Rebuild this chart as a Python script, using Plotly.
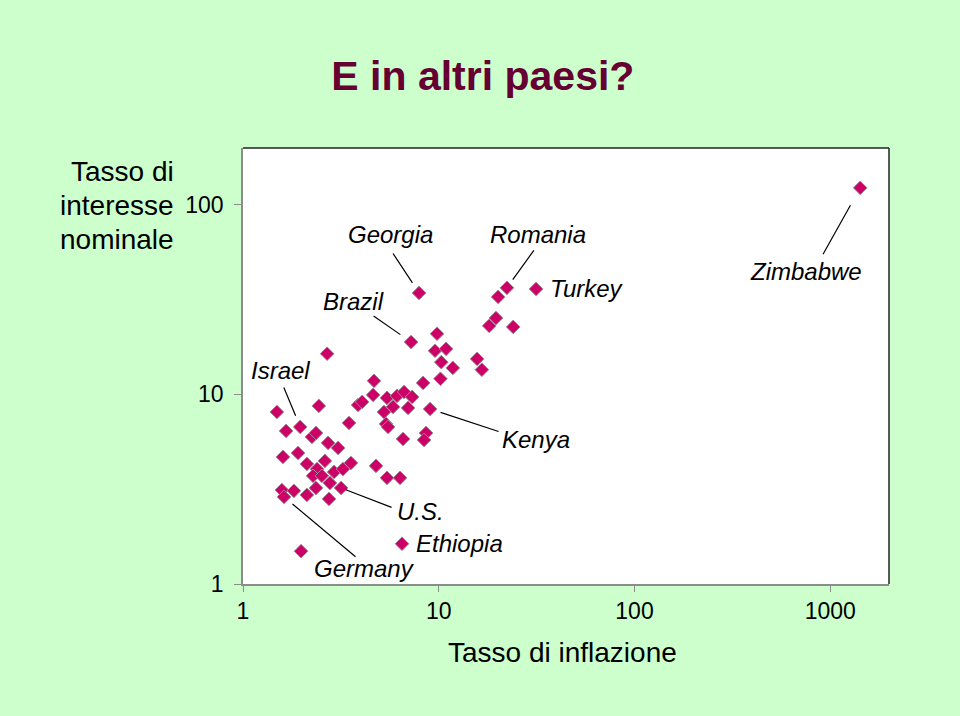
import numpy as np
import plotly.graph_objects as go

# Inflation rate (x) and nominal interest rate (y)
inflation = [1422, 31.4, 22.3, 20.1, 19.6, 18.1, 24.0, 7.93, 7.22, 9.8, 9.57, 10.9, 10.3, 11.8,
             15.7, 16.6, 10.2, 8.32, 4.67, 4.62, 5.44, 6.12, 6.65, 7.31, 3.87, 4.06, 5.84, 6.97,
             9.03, 5.25, 5.38, 5.51, 6.57, 8.61, 8.41, 2.69, 1.49, 2.44, 3.48, 1.66, 1.96, 2.25,
             2.36, 2.72, 3.06, 1.60, 1.91, 2.12, 2.62, 2.39, 2.92, 3.24, 3.56, 2.28, 2.53, 2.78,
             3.17, 4.78, 5.44, 6.34, 1.58, 1.82, 2.12, 2.36, 2.75, 1.62, 1.98, 6.49]
interest = [123, 36.0, 36.5, 32.7, 25.3, 23.0, 22.7, 34.3, 18.9, 20.9, 17.0, 17.4, 14.8, 13.8,
            15.4, 13.5, 12.1, 11.5, 11.8, 9.94, 9.59, 9.82, 10.3, 9.70, 8.80, 9.13, 8.59, 8.49,
            8.38, 8.08, 6.99, 6.74, 5.82, 6.26, 5.75, 16.4, 8.08, 8.70, 7.07, 6.42, 6.74, 5.97,
            6.26, 5.55, 5.22, 4.68, 4.91, 4.30, 4.46, 4.04, 3.90, 4.04, 4.35, 3.72, 3.72, 3.41,
            3.21, 4.20, 3.63, 3.63, 3.13, 3.10, 2.95, 3.21, 2.81, 2.88, 1.49, 1.63]

# Labelled countries: name and index of their point in the arrays above
label_names = ["Zimbabwe", "Turkey", "Romania", "Georgia", "Brazil", "Kenya",
               "Israel", "U.S.", "Germany", "Ethiopia"]
label_index = [0, 1, 2, 7, 8, 28, 40, 56, 65, 67]

x_ticks = [1, 10, 100, 1000]
x_tick_text = ["1", "10", "100", "1000"]
y_ticks = [1, 10, 100]
y_tick_text = ["1", "10", "100"]

title_text = "E in altri paesi?"
x_title = "Tasso di inflazione"
y_title_lines = ["Tasso di", "interesse", "nominale"]

# label placement: (text xshift, text yshift, xanchor, line (ax, ay, standoff)) ; None = no line
label_style = {
    "Zimbabwe": (-54, -84, "center", (-38, 68, 20)),
    "Turkey": (12, 0, "left", None),
    "Romania": (31, 53, "center", (28, -39, 10)),
    "Georgia": (-29, 58, "center", (-27, -41, 12)),
    "Brazil": (-58, 41, "center", (-39, -27, 13)),
    "Kenya": (106, -31, "center", (70, 23, 11)),
    "Israel": (-20, 56, "center", (-17, -41, 12)),
    "U.S.": (79, -24, "center", (52, 20, 5)),
    "Germany": (80, -72, "center", (73, 61, 11)),
    "Ethiopia": (12, 0, "left", None),
}

FONT = "Liberation Sans, Arial, Helvetica, sans-serif"

fig = go.Figure()
fig.add_trace(go.Scatter(
    x=inflation, y=interest, mode="markers",
    marker=dict(symbol="diamond", size=10.5, color="#cc0066",
                line=dict(color="#9a8a94", width=1)),
    hoverinfo="skip", showlegend=False,
))

annotations = []
for name, idx in zip(label_names, label_index):
    px = np.log10(inflation[idx])
    py = np.log10(interest[idx])
    xs, ys, xa, line = label_style[name]
    annotations.append(dict(
        x=px, y=py, xref="x", yref="y", text="<i>" + name + "</i>",
        showarrow=False, xshift=xs, yshift=ys, xanchor=xa, yanchor="middle",
        font=dict(family=FONT, size=24, color="black"),
    ))
    if line is not None:
        ax, ay, so = line
        annotations.append(dict(
            x=px, y=py, xref="x", yref="y", text="", showarrow=True,
            arrowhead=0, arrowwidth=1.2, arrowcolor="black",
            ax=ax, ay=ay, standoff=so, startstandoff=0,
        ))

# axis titles
annotations.append(dict(
    x=0.494, y=-0.156, xref="paper", yref="paper", text=x_title, showarrow=False,
    xanchor="center", yanchor="middle", font=dict(family=FONT, size=28, color="black"),
))
for i, line_text in enumerate(y_title_lines):
    annotations.append(dict(
        x=-0.104, y=0.945 - i * 0.078, xref="paper", yref="paper", text=line_text,
        showarrow=False, xanchor="right", yanchor="middle",
        font=dict(family=FONT, size=28, color="black"),
    ))

shapes = [
    dict(type="line", xref="paper", yref="paper", x0=0, x1=1, y0=1, y1=1,
         line=dict(color="#222222", width=1.5)),
    dict(type="line", xref="paper", yref="paper", x0=1, x1=1, y0=0, y1=1,
         line=dict(color="#222222", width=1.5)),
]

fig.update_layout(
    width=960, height=716,
    margin=dict(l=243, r=71, t=148, b=132),
    paper_bgcolor="#ccffcc",
    plot_bgcolor="white",
    title=dict(text="<b>" + title_text + "</b>", x=0.503, y=0.895, xanchor="center",
               yanchor="middle", font=dict(family=FONT, size=41, color="#660033")),
    annotations=annotations,
    shapes=shapes,
    xaxis=dict(type="log", range=[0, 3.30], tickvals=x_ticks, ticktext=x_tick_text,
               showgrid=False, zeroline=False, showline=True, linecolor="#8c8c8c",
               linewidth=1.5, ticks="outside", ticklen=6, tickcolor="#8c8c8c",
               ticklabelstandoff=0,
               tickfont=dict(family=FONT, size=23, color="black")),
    yaxis=dict(type="log", range=[0, 2.30], tickvals=y_ticks, ticktext=y_tick_text,
               showgrid=False, zeroline=False, showline=True, linecolor="#8c8c8c",
               linewidth=1.5, ticks="outside", ticklen=7, tickcolor="#8c8c8c",
               ticklabelstandoff=6,
               tickfont=dict(family=FONT, size=23, color="black")),
)

fig.write_html(
    "out.html",
    config={"displayModeBar": False},
    post_script="document.body.style.margin='0px';document.body.style.background='#e6fbe6';",
)
